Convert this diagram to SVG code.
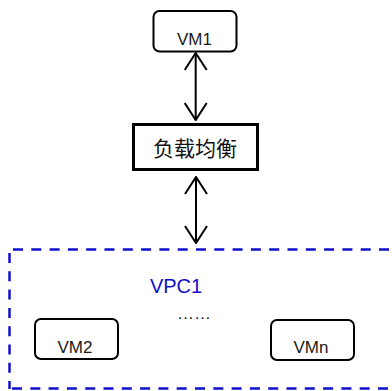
<svg xmlns="http://www.w3.org/2000/svg" width="392" height="391" viewBox="0 0 392 391">
  <style>
    .vm rect { fill: #ffffff; stroke: #000000; stroke-width: 2; }
    .lbl { font-family: "Liberation Sans", Arial, sans-serif; font-size: 17px; fill: #1a1a1a; text-anchor: middle; }
    .cjk { font-family: "Liberation Sans", "Noto Sans CJK SC", sans-serif; font-size: 21px; fill: #111111; text-anchor: middle; }
    .vpc { stroke: #1010cc; stroke-width: 2.5; stroke-dasharray: 10 8.3; fill: none; }
    .link { stroke: #000000; stroke-width: 2; fill: none; }
  </style>
  <defs>
    <marker id="head" viewBox="-18 -12 19 24" refX="0" refY="0" markerWidth="19" markerHeight="24" markerUnits="userSpaceOnUse" orient="auto-start-reverse">
      <path d="M-17,-11 L0,0 L-17,11" fill="none" stroke="#000000" stroke-width="2"/>
    </marker>
  </defs>

  <rect width="392" height="391" fill="#ffffff"/>

  <!-- VPC boundary (open on the right) -->
  <g id="vpc1">
    <line class="vpc" x1="13" y1="249.5" x2="392" y2="249.5"/>
    <line class="vpc" x1="9.5" y1="253" x2="9.5" y2="389"/>
    <line class="vpc" x1="12" y1="388.5" x2="392" y2="388.5"/>
    <text x="176" y="293" font-family="Liberation Sans, Arial, sans-serif" font-size="20" fill="#1010cc" text-anchor="middle">VPC1</text>
    <text x="194" y="319" class="lbl" fill="#000">……</text>
  </g>

  <g id="vm1" class="vm">
    <rect x="153.5" y="11" width="83" height="40.5" rx="6"/>
    <text class="lbl" x="194.5" y="45">VM1</text>
  </g>

  <g id="lb">
    <rect x="133.5" y="124.5" width="124" height="45" fill="#ffffff" stroke="#000000" stroke-width="3"/>
    <text class="cjk" x="195" y="156">负载均衡</text>
  </g>

  <g id="vm2" class="vm">
    <rect x="35" y="319" width="83" height="40" rx="6"/>
    <text class="lbl" x="75" y="353">VM2</text>
  </g>

  <g id="vmn" class="vm">
    <rect x="271" y="320" width="83" height="40" rx="6"/>
    <text class="lbl" x="311" y="353">VMn</text>
  </g>

  <g id="connectors">
    <line class="link" x1="195.7" y1="53" x2="195.7" y2="120" marker-start="url(#head)" marker-end="url(#head)"/>
    <line class="link" x1="196" y1="177" x2="196" y2="243" marker-start="url(#head)" marker-end="url(#head)"/>
  </g>
</svg>
